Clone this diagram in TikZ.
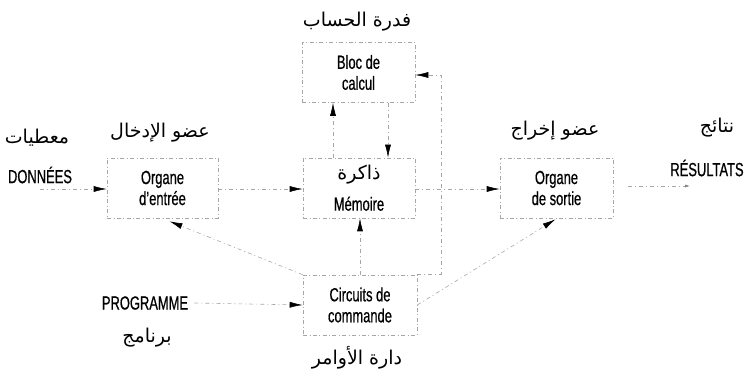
\documentclass[tikz,border=0pt]{standalone}
\usepackage{fontspec}
\setmainfont{Liberation Sans}[FakeStretch=0.68,FakeBold=0.6]
\newfontfamily\ar[Script=Arabic]{DejaVu Sans}
\TeXXeTstate=1
\usetikzlibrary{arrows.meta,calc}
\newcommand{\AR}[1]{{\ar\beginR #1\endR}}
\tikzset{
  box/.style={draw=gray!70, line width=0.6pt, dash pattern=on 4pt off 2.5pt on 0.8pt off 2.5pt,
    minimum width=113pt, minimum height=60pt, inner sep=0pt, align=center,
    font=\fontsize{19}{21}\selectfont},
  flow/.style={draw=gray!70, line width=0.6pt, dash pattern=on 4pt off 3pt on 1pt off 3pt,
    -{Latex[length=13pt,width=6pt,color=black]}},
  plain/.style={draw=gray!70, line width=0.6pt, dash pattern=on 4pt off 3pt on 1pt off 3pt},
  lat/.style={font=\fontsize{19}{20}\selectfont, inner sep=0pt},
  arb/.style={font=\fontsize{19}{22}\selectfont, inner sep=0pt}
}
\begin{document}
\begin{tikzpicture}[x=1pt,y=-1pt]
\useasboundingbox (0,0) rectangle (749,371);
% boxes
\node[box] (bloc) at (358.5,72.5) {Bloc de\\calcul};
\node[box, minimum width=111pt] (entree) at (162.5,188) {Organe\\d'entrée};
\node[box, minimum width=112pt, font=\fontsize{19}{31}\selectfont] (memoire) at (359,188) {\AR{ذاكرة}\\Mémoire};
\node[box] (sortie) at (556.5,188) {Organe\\de sortie};
\node[box, minimum width=114pt] (cmd) at (360,305) {Circuits de\\commande};
% labels
\node[arb] (l1) at (357,22) {\AR{فدرة الحساب}};
\node[arb] (l2) at (160,133) {\AR{عضو الإدخال}};
\node[arb] (l3) at (37,138) {\AR{معطيات}};
\node[lat] (l4) at (40,175) {DONNÉES};
\node[arb] (l5) at (555,131) {\AR{عضو إخراج}};
\node[arb] (l6) at (717,128) {\AR{نتائج}};
\node[lat] (l7) at (707,168) {RÉSULTATS};
\node[lat] (l8) at (145,303) {PROGRAMME};
\node[arb] (l9) at (147,338) {\AR{برنامج}};
\node[arb] (l10) at (357,358) {\AR{دارة الأوامر}};
% coordinates
\coordinate (donA) at (40,189);
\coordinate (resA) at (628,186);
\coordinate (resB) at (690,186);
\coordinate (fb) at (441,75);
% connectors
\draw[flow] (donA) -- (entree.west |- donA);
\draw[flow] (entree.east |- donA) -- (memoire.west |- donA);
\draw[flow] (memoire.east |- donA) -- (sortie.west |- donA);
\draw[plain, -{Latex[length=5pt,width=3pt,color=gray]}] (resA) -- (resB);
\draw[flow] ($(memoire.north)+(-26,0)$) -- ($(bloc.south)+(-25.5,0)$);
\draw[flow] ($(bloc.south)+(29.5,0)$) -- ($(memoire.north)+(29,0)$);
\draw[flow] (cmd.north east) -| (fb) -- (fb -| bloc.east);
\draw[flow] (cmd.north) -- (cmd.north |- memoire.south);
\draw[flow] (cmd.north west) -- ($(entree.south)+(7,3)$);
\draw[flow] (cmd.east) -- ($(sortie.south)+(-1,1)$);
\draw[flow] (l8.east) ++(6,0) -- (cmd.west);
\end{tikzpicture}
\end{document}
